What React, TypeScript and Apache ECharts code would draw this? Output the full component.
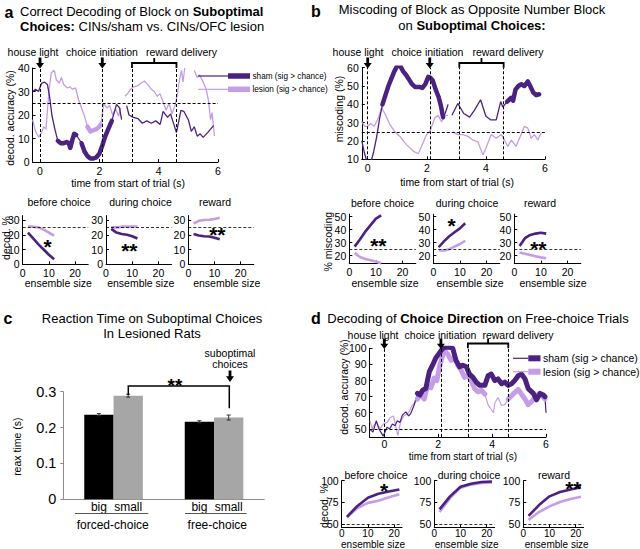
import React, { useEffect, useRef } from "react";
import * as echarts from "echarts";

const DARK = "#4b2181";
const LIGHT = "#c59de6";
const FONT = "'Liberation Sans', Arial, Helvetica, sans-serif";

// ---------- Panel a: correct decoding of block (time course) ----------
const aSham: [number, number | null][] = [
  [-0.25, 30], [-0.15, 31], [-0.05, 30], [0.05, 33.5], [0.15, 34], [0.25, 33], [0.32, 28], [0.4, 20], [0.5, 14],
  [0.6, 9], [0.7, 8], [0.8, 8], [0.9, 8.5], [0.97, 8], [1.02, 6], [1.08, 9], [1.15, 12], [1.22, 11.5], [1.3, 10],
  [1.4, 8], [1.5, 4.5], [1.6, 2.5], [1.7, 1.5], [1.8, 1.5], [1.9, 2], [2.0, 3.5], [2.1, 7], [2.2, 11], [2.3, 14],
  [2.42, 17.5], [2.5, 21], [2.58, 24.5], [2.68, 23], [2.75, 18], [2.8, null],
  [2.92, 24], [3.0, 20], [3.15, 19], [3.3, 18.5], [3.45, 16.5], [3.6, 17.5], [3.75, 16.5], [3.9, 17.5], [4.05, 16],
  [4.15, 21.5], [4.3, 19], [4.4, 20.5], [4.6, 12.5], [4.75, 22], [4.85, 21.5], [5.0, 18], [5.1, 13], [5.2, 15],
  [5.3, 11], [5.4, 12], [5.5, 10.5], [5.65, 12.5], [5.85, 15.5],
];
const aShamSig = [[0.6, 1.25], [1.4, 2.42]];
const aLesion: [number, number | null][] = [
  [-0.25, 18], [-0.15, 13], [-0.05, 10.5], [0.05, 12.5], [0.12, 15], [0.2, 14], [0.3, 30], [0.38, 38], [0.48, 39],
  [0.55, 35], [0.65, 33.5], [0.72, 36], [0.8, 33], [0.92, 31.5], [1.0, 32], [1.1, 31], [1.2, 31.5], [1.3, 26.5],
  [1.4, 23], [1.5, 19.5], [1.6, 15], [1.7, 13], [1.8, 13.5], [1.9, 14], [2.0, 15], [2.05, 16], [2.15, 25],
  [2.25, 23], [2.35, 24], [2.45, 20], [2.55, 22.5], [2.65, 19.5], [2.72, 23], [2.8, null],
  [2.86, 28], [2.95, 29], [3.05, 31], [3.15, 32], [3.3, 32.5], [3.4, 33.5], [3.52, 34.5], [3.62, 33], [3.75, 31],
  [3.85, 30], [3.95, 28], [4.05, 29], [4.15, 25.5], [4.25, 22], [4.35, 25], [4.45, 20.5], [4.55, 24], [4.62, 28],
  [4.7, 35], [4.77, 39], [4.82, 34], [4.88, 40], [5.0, null],
  [5.2, 39], [5.3, 36], [5.38, 37], [5.5, 34], [5.6, 31], [5.68, 26], [5.75, 18], [5.8, 21], [5.88, 11],
];
const aLesionSig = [[1.6, 2.05]];

// ---------- Panel b: miscoding (time course) ----------
const bSham: [number, number | null][] = [
  [-0.2, 20], [-0.12, 14], [-0.05, 10], [0.0, 8], [0.1, 8], [0.2, 14], [0.3, 22], [0.4, 32], [0.5, 40], [0.6, 45],
  [0.7, 50], [0.8, 54], [0.9, 58], [1.0, 61], [1.1, 61], [1.2, 58], [1.3, 56], [1.4, 53.5], [1.5, 51], [1.6, 49.5],
  [1.75, 49.5], [1.85, 49], [1.95, 51], [2.05, 55], [2.12, 54.5], [2.2, 53], [2.3, 48], [2.4, 44], [2.48, 39],
  [2.55, 33], [2.62, 35], [2.72, 40], [2.78, null],
  [2.85, 34], [3.05, 40.5], [3.25, 35], [3.45, 33], [3.62, 37], [3.82, 42.5], [4.0, 33.5], [4.17, 31.5],
  [4.35, 31.5], [4.5, 41.5], [4.57, 38.5], [4.72, 41.5], [4.85, 43.5], [4.92, 42], [5.0, 48], [5.1, 50],
  [5.2, 51], [5.3, 50], [5.42, 52.5], [5.5, 50], [5.6, 46.5], [5.7, 45], [5.8, 45.5],
];
const bShamSig = [[0.5, 2.55], [4.7, 5.85]];
const bLesion: [number, number | null][] = [
  [-0.2, 30.5], [-0.1, 28], [0.0, 28], [0.1, 29.5], [0.22, 28], [0.36, 32.5], [0.47, 38], [0.58, 35], [0.75, 29],
  [0.92, 25], [1.09, 22.5], [1.31, 18], [1.54, 14.5], [1.71, 13], [1.82, 17], [1.99, 23.5], [2.1, 25], [2.27, 32.5],
  [2.38, 34], [2.5, 30.5], [2.61, 34], [2.72, 34], [2.8, null],
  [2.89, 25], [3.05, 23.5], [3.22, 23.5], [3.39, 22.5], [3.56, 20.5], [3.73, 19.5], [3.9, 12.5], [4.0, 16],
  [4.18, 23.5], [4.35, 21.5], [4.52, 23.5], [4.63, 20.5], [4.74, 17], [4.86, 20.5], [5.02, 17], [5.19, 23.5],
  [5.3, 28], [5.42, 27], [5.53, 21.5], [5.64, 23.5], [5.76, 20.5], [5.87, 24.5],
];
const bLesionSig: number[][] = [];

// ---------- Panel d: choice direction decoding (time course) ----------
const dSham: [number, number | null][] = [
  [-0.53, 49.5], [-0.42, 48], [-0.3, 55], [-0.2, 50], [-0.04, 45.5], [0.1, 51], [0.2, 50], [0.3, 53], [0.4, 52],
  [0.48, 55], [0.58, 54], [0.67, 58.5], [0.8, 60.5], [0.9, 58], [0.98, 59.5], [1.1, 64.5], [1.23, 72], [1.32, 71],
  [1.42, 74], [1.54, 75], [1.67, 85.5], [1.79, 89.5], [1.91, 94], [2.04, 97], [2.17, 100], [2.35, 101], [2.54, 100],
  [2.66, 92.5], [2.79, 88.5], [2.91, 89.5], [3.04, 88.5], [3.16, 84], [3.29, 82], [3.41, 79], [3.54, 77],
  [3.73, 77], [3.85, 83], [3.97, 84], [4.1, 80], [4.22, 81], [4.35, 78], [4.47, 79], [4.6, 77], [4.72, 78],
  [4.84, 80], [4.97, 83], [5.09, 84], [5.22, 81], [5.34, 75], [5.53, 72], [5.65, 68], [5.78, 72], [5.9, 71],
  [5.96, 70], [6.0, 60],
];
const dShamSig = [[1.2, 5.96]];
const dLesion: [number, number | null][] = [
  [-0.53, 55], [-0.45, 50], [-0.4, 52], [-0.28, 54], [-0.16, 50], [-0.04, 53], [0.1, 54], [0.22, 57], [0.34, 58],
  [0.42, 52], [0.5, 46], [0.6, 54], [0.72, 58], [0.9, 60], [1.03, 64.5], [1.13, 66], [1.23, 68.5], [1.35, 71.5],
  [1.48, 68.5], [1.6, 76.5], [1.73, 75.5], [1.85, 81.5], [1.95, 80], [2.04, 88], [2.13, 93.5], [2.23, 98.5],
  [2.35, 96.5], [2.48, 92.5], [2.6, 94.5], [2.73, 89.5], [2.85, 86.5], [2.98, 82], [3.1, 83.5], [3.23, 79.5],
  [3.35, 75], [3.48, 73], [3.6, 74], [3.73, 71.5], [3.85, 65], [3.97, 62], [4.05, 60], [4.1, 66], [4.22, 69.5],
  [4.35, 64.5], [4.47, 65], [4.6, 68.5], [4.72, 70.5], [4.84, 72.5], [4.97, 74.5], [5.09, 71.5], [5.22, 68.5],
  [5.34, 65], [5.47, 67], [5.59, 69.5], [5.72, 71.5], [5.84, 70.5], [5.96, 68.5],
];
const dLesionSig = [[1.2, 3.8], [4.6, 5.96]];

// ---------- Ensemble-size mini plots ----------
const ensAB = [2, 4, 6, 8, 10, 12];
const aMiniSham = [
  [21.5, 17.5, 13.5, 10, 6.5, 3.5],
  [24, 21.5, 20.5, 20, 19, 17.5],
  [20.5, 19.5, 19, 18.8, 18, 17],
];
const aMiniLesion = [
  [25.5, 25.5, 25, 23.5, 21.5, 19.5],
  [25, 25, 25.5, 25.5, 25.5, 25.5],
  [27.5, 29.5, 30, 30.2, 30.7, 31.5],
];
const bMiniSham = [
  [27, 32.5, 38.5, 43.5, 48.5, 51],
  [26.5, 31, 35, 38, 41, 45],
  [27.5, 33.5, 36, 37, 37.7, 37],
];
const bMiniLesion = [
  [22, 19, 17.5, 16.5, 15.5, 14],
  [24, 24, 25, 27, 29, 31.5],
  [22.5, 21.5, 20.5, 19.5, 18.7, 18],
];
const ensD = [2, 6, 10, 14, 18, 22];
const dMiniSham = [
  [58.5, 71, 80.5, 85, 87.5, 90],
  [67, 82, 93, 96.5, 98.5, 99],
  [59.5, 72, 82, 87, 90, 92.5],
];
const dMiniLesion = [
  [58, 68.5, 74.5, 77, 81, 84.5],
  [64, 80, 92, 95.5, 97.5, 98],
  [55, 64, 70.5, 75.5, 79, 81.5],
];
const miniTitles = ["before choice", "during choice", "reward"];

// ---------- Panel c: reaction times ----------
const cCategories = ["forced-choice", "free-choice"];
const cBig = [0.236, 0.216];
const cSmall = [0.289, 0.228];
const cBigErr = [0.003, 0.003];
const cSmallErr = [0.004, 0.007];

// ---------- tick values ----------
const timeTicks = [0, 2, 4, 6];
const ensTicks = [0, 10, 20];
const aTopYTicks = [0, 10, 20, 30, 40];
const aMiniYTicks = [0, 10, 20, 30];
const bTopYTicks = [10, 20, 30, 40, 50, 60];
const bMiniYTicks = [20, 30, 40, 50];
const dTopYTicks = [50, 60, 70, 80, 90, 100];
const dMiniYTicks = [50, 75, 100];

// ---------- layout ----------
const GRIDS = [
  { left: 32.6, top: 68, width: 185.4, height: 94 }, // 0 a top
  { left: 22.7, top: 215.6, width: 65.5, height: 48.7 }, // 1 a mini
  { left: 106, top: 215.6, width: 65.5, height: 48.7 }, // 2
  { left: 188.3, top: 215.6, width: 65.5, height: 48.7 }, // 3
  { left: 361.8, top: 67.7, width: 183.2, height: 91.6 }, // 4 b top
  { left: 349.3, top: 214.1, width: 66.5, height: 49.4 }, // 5 b mini
  { left: 433.3, top: 214.1, width: 66.5, height: 49.4 }, // 6
  { left: 514.3, top: 214.1, width: 66.5, height: 49.4 }, // 7
  { left: 63.3, top: 391.7, width: 201, height: 107.6 }, // 8 c
  { left: 369.5, top: 348.3, width: 176.5, height: 88.6 }, // 9 d top
  { left: 341.7, top: 480.7, width: 60.3, height: 47 }, // 10 d mini
  { left: 434.3, top: 480.7, width: 60.3, height: 47 }, // 11
  { left: 523.3, top: 480.7, width: 60.3, height: 47 }, // 12
];

function valAxis(g: number, min: number, max: number, ticks: number[], isX: boolean, size = 10.5, margin = 3) {
  return {
    type: "value",
    gridIndex: g,
    min,
    max,
    axisLine: { show: true, onZero: false, lineStyle: { color: "#000", width: 1 } },
    axisTick: { show: true, inside: true, length: 3, customValues: ticks, lineStyle: { color: "#000", width: 1 } },
    axisLabel: {
      customValues: ticks,
      fontSize: size,
      fontFamily: FONT,
      color: "#000",
      margin,
    },
    splitLine: { show: false },
  };
}

function inRanges(t: number, ranges: number[][]) {
  return ranges.some(([a, b]) => t >= a - 1e-9 && t <= b + 1e-9);
}
function thinData(d: [number, number | null][]) {
  return d.map(([t, v]) => [t, v === null ? "-" : v]);
}
function thickData(d: [number, number | null][], sig: number[][]) {
  return d.map(([t, v]) => [t, v !== null && inRanges(t, sig) ? v : "-"]);
}

const dashStyle = { type: [3, 2] as any, color: "#000", width: 1 };

function timeSeries(
  g: number,
  sham: [number, number | null][],
  shamSig: number[][],
  lesion: [number, number | null][],
  lesionSig: number[][],
  chance: number,
  thickW: number,
  thinW: number
) {
  const base = { type: "line", xAxisIndex: g, yAxisIndex: g, symbol: "none", showSymbol: false, silent: true, connectNulls: false };
  return [
    {
      ...base,
      data: thinData(lesion),
      lineStyle: { color: LIGHT, width: thinW },
      itemStyle: { color: LIGHT },
      markLine: {
        silent: true,
        symbol: "none",
        label: { show: false },
        lineStyle: dashStyle,
        data: [{ xAxis: 0 }, { xAxis: 2.1 }, { xAxis: 3.1 }, { xAxis: 4.6 }, { yAxis: chance }],
      },
    },
    { ...base, data: thinData(sham), lineStyle: { color: DARK, width: thinW }, itemStyle: { color: DARK } },
    { ...base, data: thickData(lesion, lesionSig), lineStyle: { color: LIGHT, width: thickW, join: "round", cap: "round" }, itemStyle: { color: LIGHT } },
    { ...base, data: thickData(sham, shamSig), lineStyle: { color: DARK, width: thickW, join: "round", cap: "round" }, itemStyle: { color: DARK } },
  ];
}

function miniSeries(g: number, xs: number[], sham: number[], lesion: number[], chance: number) {
  const base = { type: "line", xAxisIndex: g, yAxisIndex: g, symbol: "none", showSymbol: false, silent: true };
  return [
    {
      ...base,
      data: xs.map((x, i) => [x, lesion[i]]),
      lineStyle: { color: LIGHT, width: 2.6 },
      itemStyle: { color: LIGHT },
      markLine: { silent: true, symbol: "none", label: { show: false }, lineStyle: { ...dashStyle, width: 0.8 }, data: [{ yAxis: chance }] },
    },
    { ...base, data: xs.map((x, i) => [x, sham[i]]), lineStyle: { color: DARK, width: 2.6 }, itemStyle: { color: DARK } },
  ];
}

// ---------- graphic helpers ----------
function txt(x: number, y: number, text: string, o: any = {}) {
  const size = o.size || 10.5;
  const align = o.align || "center";
  return {
    type: "text",
    x,
    y,
    z: 100,
    silent: true,
    rotation: o.rot || 0,
    style: {
      text,
      fill: "#000",
      fontSize: size,
      fontFamily: FONT,
      fontWeight: o.bold ? "bold" : "normal",
      textAlign: align,
      align,
      textVerticalAlign: "middle",
      verticalAlign: "middle",
      rich: o.rich,
    },
  };
}
function boldRich(size: number) {
  return { b: { fontWeight: "bold", fontSize: size, fontFamily: FONT, fill: "#000" }, n: { fontSize: size, fontFamily: FONT, fill: "#000" } };
}
function arrow(x: number, y0: number, y1: number) {
  const ym = y0 + (y1 - y0) * 0.5;
  return {
    type: "polygon",
    z: 100,
    silent: true,
    shape: {
      points: [
        [x - 1.4, y0], [x + 1.4, y0], [x + 1.4, ym], [x + 4, ym], [x, y1], [x - 4, ym], [x - 1.4, ym],
      ],
    },
    style: { fill: "#000" },
  };
}
function seg(x1: number, y1: number, x2: number, y2: number, color = "#000", w = 1) {
  return { type: "line", z: 100, silent: true, shape: { x1, y1, x2, y2 }, style: { stroke: color, lineWidth: w } };
}
function bracket(x1: number, x2: number, yTop: number, yBot: number, yTick: number) {
  const mid = (x1 + x2) / 2;
  return [
    {
      type: "polyline",
      z: 100,
      silent: true,
      shape: { points: [[x1, yBot], [x1, yTop], [x2, yTop], [x2, yBot]] },
      style: { stroke: "#000", lineWidth: 1.8, fill: null },
    },
    seg(mid, yTop, mid, yTick, "#000", 1.8),
  ];
}
function star(x: number, y: number, n: number) {
  return txt(x, y + 5, "*".repeat(n), { size: 21, bold: true });
}

// pixel of time value in a top grid
function tx(g: number, min: number, max: number, t: number) {
  const G = GRIDS[g];
  return G.left + ((t - min) / (max - min)) * G.width;
}

export default function App() {
  const ref = useRef<HTMLDivElement>(null);
  useEffect(() => {
    if (!ref.current) return;
    const chart = echarts.init(ref.current, null, { renderer: "svg" });

    const xAxes: any[] = [];
    const yAxes: any[] = [];
    // a
    xAxes.push(valAxis(0, -0.25, 6, timeTicks, true));
    yAxes.push(valAxis(0, 0, 40, aTopYTicks, false));
    for (let i = 1; i <= 3; i++) {
      xAxes.push(valAxis(i, 0, 25, ensTicks, true));
      yAxes.push(valAxis(i, 0, 33, aMiniYTicks, false));
    }
    // b
    xAxes.push(valAxis(4, -0.2, 6, timeTicks, true));
    yAxes.push(valAxis(4, 10, 60, bTopYTicks, false));
    for (let i = 5; i <= 7; i++) {
      xAxes.push(valAxis(i, 0, 25, ensTicks, true));
      yAxes.push(valAxis(i, 14, 52, bMiniYTicks, false));
    }
    // c
    xAxes.push({
      type: "category",
      gridIndex: 8,
      data: cCategories,
      axisLine: { show: true, lineStyle: { color: "#8c8c8c", width: 1 } },
      axisTick: { show: false },
      axisLabel: { show: false },
    });
    yAxes.push({
      type: "value",
      gridIndex: 8,
      min: 0,
      max: 0.3,
      interval: 0.1,
      axisLine: { show: true, lineStyle: { color: "#8c8c8c", width: 1 } },
      axisTick: { show: true, inside: false, length: 3, lineStyle: { color: "#8c8c8c" } },
      axisLabel: {
        fontSize: 14.5,
        fontFamily: FONT,
        color: "#000",
        margin: 7,
        formatter: (v: number) => (v === 0 ? "0" : v.toFixed(1)),
      },
      splitLine: { show: false },
    });
    // d
    xAxes.push(valAxis(9, -0.55, 6, timeTicks, true, 10.5, 1.5));
    yAxes.push(valAxis(9, 45, 100, dTopYTicks, false));
    for (let i = 10; i <= 12; i++) {
      xAxes.push(valAxis(i, 0, 23, ensTicks, true, 10, 1));
      yAxes.push(valAxis(i, 46, 100, dMiniYTicks, false));
    }

    const series: any[] = [];
    series.push(...timeSeries(0, aSham, aShamSig, aLesion, aLesionSig, 25, 4.5, 1.3));
    series.push(...timeSeries(4, bSham, bShamSig, bLesion, bLesionSig, 25, 4.5, 1.3));
    series.push(...timeSeries(9, dSham, dShamSig, dLesion, dLesionSig, 50, 5, 1.2));
    for (let i = 0; i < 3; i++) {
      series.push(...miniSeries(1 + i, ensAB, aMiniSham[i], aMiniLesion[i], 25));
      series.push(...miniSeries(5 + i, ensAB, bMiniSham[i], bMiniLesion[i], 25));
      series.push(...miniSeries(10 + i, ensD, dMiniSham[i], dMiniLesion[i], 50));
    }
    const BW = 29.3;
    series.push({
      type: "bar",
      name: "big",
      xAxisIndex: 8,
      yAxisIndex: 8,
      data: cBig,
      barWidth: BW,
      barGap: "0%",
      itemStyle: { color: "#000" },
      silent: true,
    });
    series.push({
      type: "bar",
      name: "small",
      xAxisIndex: 8,
      yAxisIndex: 8,
      data: cSmall,
      barWidth: BW,
      barGap: "0%",
      itemStyle: { color: "#a6a6a6" },
      silent: true,
    });
    const errData: number[][] = [];
    cBig.forEach((v, i) => errData.push([i, 0, v, cBigErr[i]]));
    cSmall.forEach((v, i) => errData.push([i, 1, v, cSmallErr[i]]));
    series.push({
      type: "custom",
      xAxisIndex: 8,
      yAxisIndex: 8,
      silent: true,
      z: 5,
      data: errData,
      renderItem: (params: any, api: any) => {
        const ci = api.value(0);
        const si = api.value(1);
        const v = api.value(2);
        const e = api.value(3);
        const top = api.coord([ci, v + e]);
        const bot = api.coord([ci, v - e]);
        const x = top[0] + (si === 0 ? -BW / 2 : BW / 2);
        const st = { stroke: "#333", lineWidth: 1 };
        return {
          type: "group",
          children: [
            { type: "line", shape: { x1: x, y1: top[1], x2: x, y2: bot[1] }, style: st },
            { type: "line", shape: { x1: x - 2, y1: top[1], x2: x + 2, y2: top[1] }, style: st },
            { type: "line", shape: { x1: x - 2, y1: bot[1], x2: x + 2, y2: bot[1] }, style: st },
          ],
        };
      },
    });

    // ---------- graphics ----------
    const gr: any[] = [];
    // panel letters
    gr.push(txt(9, 12, "a", { size: 16, bold: true }));
    gr.push(txt(316, 11, "b", { size: 16, bold: true }));
    gr.push(txt(8, 318, "c", { size: 16, bold: true }));
    gr.push(txt(316, 318, "d", { size: 16, bold: true }));

    // titles
    gr.push(txt(20, 11.7, "{n|Correct Decoding of Block on }{b|Suboptimal}", { size: 13, align: "left", rich: boldRich(13) }));
    gr.push(txt(20, 26.7, "{b|Choices:}{n| CINs/sham vs. CINs/OFC lesion}", { size: 13, align: "left", rich: boldRich(13) }));
    gr.push(txt(472, 9, "Miscoding of Block as Opposite Number Block", { size: 13 }));
    gr.push(txt(472, 25, "{n|on }{b|Suboptimal Choices:}", { size: 13, rich: boldRich(13) }));
    gr.push(txt(152, 318.3, "Reaction Time on Suboptimal Choices", { size: 13 }));
    gr.push(txt(152, 333.3, "In Lesioned Rats", { size: 13 }));
    gr.push(txt(478, 318.3, "{n|Decoding of }{b|Choice Direction}{n| on Free-choice Trials}", { size: 13, rich: boldRich(13) }));

    // event labels, arrows, brackets for the three time-course plots
    const tops = [
      { g: 0, min: -0.25, max: 6, ly: 52, lx: [33, 102, 181.5], ay0: 57.5, ay1: 68.5, by: 63, bt: 58 },
      { g: 4, min: -0.2, max: 6, ly: 52, lx: [358, 427.5, 508], ay0: 57.5, ay1: 68.5, by: 63, bt: 58 },
      { g: 9, min: -0.55, max: 6, ly: 335, lx: [373, 440.5, 518], ay0: 338.5, ay1: 349, by: 343.5, bt: 339 },
    ];
    tops.forEach((p) => {
      const x0 = tx(p.g, p.min, p.max, 0);
      const x21 = tx(p.g, p.min, p.max, 2.1);
      const x31 = tx(p.g, p.min, p.max, 3.1);
      const x46 = tx(p.g, p.min, p.max, 4.6);
      const gTop = GRIDS[p.g].top;
      gr.push(txt(p.lx[0], p.ly, "house light"));
      gr.push(txt(p.lx[1], p.ly, "choice initiation"));
      gr.push(txt(p.lx[2], p.ly, "reward delivery"));
      gr.push(arrow(x0, p.ay0, p.ay1));
      gr.push(arrow(x21, p.ay0, p.ay1));
      gr.push(...bracket(x31, x46, p.by, gTop, p.bt));
    });

    // axis names for time plots
    gr.push(txt(128, 183, "time from start of trial (s)"));
    gr.push(txt(457, 182, "time from start of trial (s)"));
    gr.push(txt(463, 456.5, "time from start of trial (s)", { size: 10 }));
    gr.push(txt(10, 118, "decod. accuracy (%)", { rot: Math.PI / 2 }));
    gr.push(txt(338.5, 109, "miscoding (%)", { rot: Math.PI / 2 }));
    gr.push(txt(344, 387, "decod. accuracy (%)", { rot: Math.PI / 2 }));

    // legends
    const leg = (x0: number, xm: number, x1: number, y: number, color: string, label: string, size: number, w: number) => {
      gr.push(seg(x0, y, xm, y, color, 1.2));
      gr.push(seg(xm, y, x1, y, color, w));
      gr.push(txt(x1 + 2.5, y, label, { align: "left", size }));
    };
    leg(198, 228, 250, 76, DARK, "sham (sig > chance)", 8.2, 5.5);
    leg(198, 228, 250, 89.3, LIGHT, "lesion (sig > chance)", 8.2, 5.5);
    leg(513, 528.3, 540.5, 358.3, DARK, "sham (sig > chance)", 10.5, 6);
    leg(513, 528.3, 540.5, 371.7, LIGHT, "lesion (sig > chance)", 10.5, 6);

    // mini plot titles & labels
    [59, 140.5, 215].forEach((x, i) => gr.push(txt(x, 201.7, miniTitles[i])));
    [382.5, 467, 540].forEach((x, i) => gr.push(txt(x, 203, miniTitles[i])));
    [376, 469, 554].forEach((x, i) => gr.push(txt(x, 474.5, miniTitles[i])));
    [58.3, 140.7, 226.7].forEach((x) => gr.push(txt(x, 283.3, "ensemble size")));
    [385, 470, 553].forEach((x) => gr.push(txt(x, 283, "ensemble size")));
    [373, 466.7, 556.7].forEach((x) => gr.push(txt(x, 544, "ensemble size", { size: 10 })));
    gr.push(txt(5.5, 238, "decod. %", { rot: Math.PI / 2 }));
    gr.push(txt(328.3, 241.7, "% miscoding", { rot: Math.PI / 2 }));
    gr.push(txt(324, 506, "decod. %", { rot: Math.PI / 2 }));

    // significance stars
    gr.push(star(47.7, 241.7, 1));
    gr.push(star(129.3, 245.7, 2));
    gr.push(star(217.3, 229, 2));
    gr.push(star(378.3, 240, 2));
    gr.push(star(451.7, 220.7, 1));
    gr.push(star(538.3, 243.3, 2));
    gr.push(star(384, 485, 1));
    gr.push(star(573.3, 483.3, 2));

    // panel c annotations
    gr.push(txt(17, 446.7, "reax time (s)", { rot: Math.PI / 2 }));
    gr.push(txt(98.9, 506.7, "big", { size: 12 }));
    gr.push(txt(128.2, 506.7, "small", { size: 12 }));
    gr.push(txt(199.4, 506.7, "big", { size: 12 }));
    gr.push(txt(228.7, 506.7, "small", { size: 12 }));
    gr.push(seg(75, 513.5, 148.3, 513.5, "#555", 1));
    gr.push(seg(185, 513.5, 246.7, 513.5, "#555", 1));
    gr.push(txt(112.7, 524.5, "forced-choice", { size: 12 }));
    gr.push(txt(217.3, 524.5, "free-choice", { size: 12 }));
    gr.push(txt(230, 353.3, "suboptimal", { size: 10.5 }));
    gr.push(txt(230, 364, "choices", { size: 10.5 }));
    gr.push(arrow(230, 370.5, 382));
    gr.push({
      type: "polyline",
      z: 100,
      silent: true,
      shape: { points: [[128.3, 395], [128.3, 386], [229.3, 386], [229.3, 408.3]] },
      style: { stroke: "#000", lineWidth: 1.5, fill: null },
    });
    gr.push(txt(175, 385, "**", { size: 19, bold: true }));

    chart.setOption({
      animation: false,
      backgroundColor: "#fff",
      grid: GRIDS.map((g) => ({ ...g, containLabel: false })),
      xAxis: xAxes,
      yAxis: yAxes,
      series,
      graphic: { elements: gr },
    });
    return () => chart.dispose();
  }, []);
  return <div ref={ref} style={{ position: "absolute", left: 0, top: 0, width: 640, height: 549 }} />;
}
